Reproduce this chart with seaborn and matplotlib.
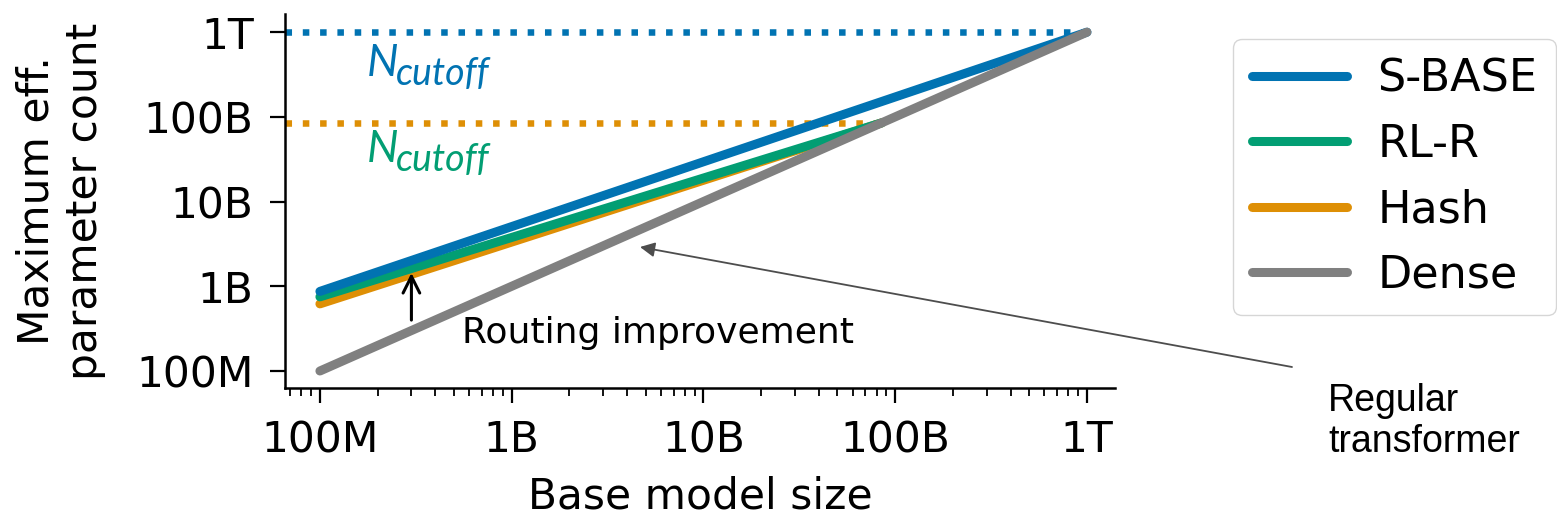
import numpy as np
import pandas as pd
import seaborn as sns
import matplotlib.pyplot as plt
from matplotlib.lines import Line2D
from matplotlib.ticker import FixedLocator, FixedFormatter, NullLocator, LogLocator

# Routing-method scaling lines (base model size -> max effective parameter count)
models = ["S-BASE", "RL-R", "Hash", "Dense"]
sbase_x = [1e8, 1e12]
sbase_y = [8.7e8, 1e12]
rlr_x = [1e8, 8.5e10]
rlr_y = [7.5e8, 8.5e10]
hash_x = [1e8, 8.5e10]
hash_y = [6.2e8, 8.5e10]
dense_x = [1e8, 1e12]
dense_y = [1e8, 1e12]

# Cutoff levels (dotted horizontals)
cutoff_sbase = 1e12
cutoff_rlr_hash = 8.5e10

# "Routing improvement" arrow at a base size of 300M
improve_x = 3e8
improve_from = 3.7e8
improve_to = 1.55e9

tick_values = [1e8, 1e9, 1e10, 1e11, 1e12]
tick_labels = ["100M", "1B", "10B", "100B", "1T"]

colors = {"S-BASE": "#0173b2", "RL-R": "#029e73", "Hash": "#de8f05", "Dense": "#808080"}

df = pd.concat([
    pd.DataFrame({"model": "Hash", "base": hash_x, "eff": hash_y}),
    pd.DataFrame({"model": "RL-R", "base": rlr_x, "eff": rlr_y}),
    pd.DataFrame({"model": "S-BASE", "base": sbase_x, "eff": sbase_y}),
    pd.DataFrame({"model": "Dense", "base": dense_x, "eff": dense_y}),
], ignore_index=True)

sns.set_style("ticks")
plt.rcParams.update({
    "font.family": ["DejaVu Sans"],
    "font.size": 30.5,
    "text.color": "black",
    "axes.labelcolor": "black",
    "axes.edgecolor": "black",
    "xtick.color": "black",
    "ytick.color": "black",
    "axes.linewidth": 1.8,
    "xtick.major.width": 1.6,
    "ytick.major.width": 1.6,
    "xtick.minor.width": 1.3,
    "xtick.major.size": 10.5,
    "ytick.major.size": 10.5,
    "xtick.minor.size": 5.5,
    "xtick.major.pad": 12,
    "ytick.major.pad": 12,
})

fig = plt.figure(figsize=(15.57, 5.21), dpi=100)
ax = fig.add_axes([0.1830, 0.2553, 0.5331, 0.7179])
ax.set_xscale("log")
ax.set_yscale("log")
xlo, xhi = 6.57e7, 1.4e12
ylo, yhi = 6.3e7, 1.64e12
ax.set_xlim(xlo, xhi)
ax.set_ylim(ylo, yhi)

sns.lineplot(data=df, x="base", y="eff", hue="model",
             hue_order=["Hash", "RL-R", "S-BASE", "Dense"],
             palette=colors, linewidth=6.5, legend=False, ax=ax, zorder=3)

# Cutoff dotted lines
ax.plot([xlo, cutoff_sbase], [cutoff_sbase, cutoff_sbase], ls=":", lw=4.7,
        color=colors["S-BASE"], zorder=2, clip_on=False)
ax.plot([xlo, cutoff_rlr_hash], [cutoff_rlr_hash, cutoff_rlr_hash], ls=":", lw=4.7,
        color=colors["Hash"], zorder=2, clip_on=False)


def cutoff_label(y, color):
    """Italic N with a 'cutoff' subscript, placed at x = 175M."""
    ax.text(1.75e8, y, "N", color=color, family=["Lato"], style="italic",
            fontsize=32, va="baseline", ha="left")
    ax.annotate("cutoff", xy=(1.75e8, y), xytext=(21.5, -6), textcoords="offset points",
                color=color, family=["Lato"], style="italic", fontsize=27,
                va="baseline", ha="left")


cutoff_label(3.0e11, colors["S-BASE"])
cutoff_label(2.9e10, colors["RL-R"])

# Routing improvement arrow and label
ax.annotate("", xy=(improve_x, improve_to), xytext=(improve_x, improve_from),
            arrowprops=dict(arrowstyle="->", color="black", lw=2.2,
                            mutation_scale=30), zorder=5)
ax.text(5.5e8, 2.14e8, "Routing improvement", fontsize=26,
        va="baseline", ha="left")

# Pointer from the side note to the dense line
ax.annotate("", xy=(4.67e9, 2.91e9), xycoords="data",
            xytext=(1292 / 1557, 1 - 367 / 521), textcoords="figure fraction",
            arrowprops=dict(arrowstyle="-|>", color="#4d4d4d", lw=1.3,
                            mutation_scale=22, shrinkA=0, shrinkB=0),
            annotation_clip=False)
fig.text(1328 / 1557, 1 - 452 / 521, "Regular\ntransformer",
         family=["Liberation Sans"], fontsize=27, va="baseline", ha="left",
         linespacing=1.18)

# Axes ticks and labels
ax.xaxis.set_major_locator(FixedLocator(tick_values))
ax.xaxis.set_major_formatter(FixedFormatter(tick_labels))
ax.xaxis.set_minor_locator(LogLocator(base=10, subs=np.arange(2, 10)))
ax.yaxis.set_major_locator(FixedLocator(tick_values))
ax.yaxis.set_major_formatter(FixedFormatter(tick_labels))
ax.yaxis.set_minor_locator(NullLocator())

ax.set_xlabel("Base model size")
ax.set_ylabel("Maximum eff.\nparameter count")
ax.xaxis.set_label_coords(0.5, -0.235)
ax.yaxis.set_label_coords(-0.215, 0.5)
sns.despine(ax=ax)

handles = [Line2D([0], [0], color=colors[m], lw=6.5) for m in models]
fig.legend(handles, models, loc="upper left", bbox_to_anchor=(1233 / 1557, 1 - 39 / 521),
           bbox_transform=fig.transFigure, frameon=True, fancybox=True,
           edgecolor="#cccccc", handlelength=2.15, handletextpad=0.68,
           labelspacing=0.5, borderpad=0.42, borderaxespad=0, fontsize=32)

fig.savefig("out.png", dpi=100)
